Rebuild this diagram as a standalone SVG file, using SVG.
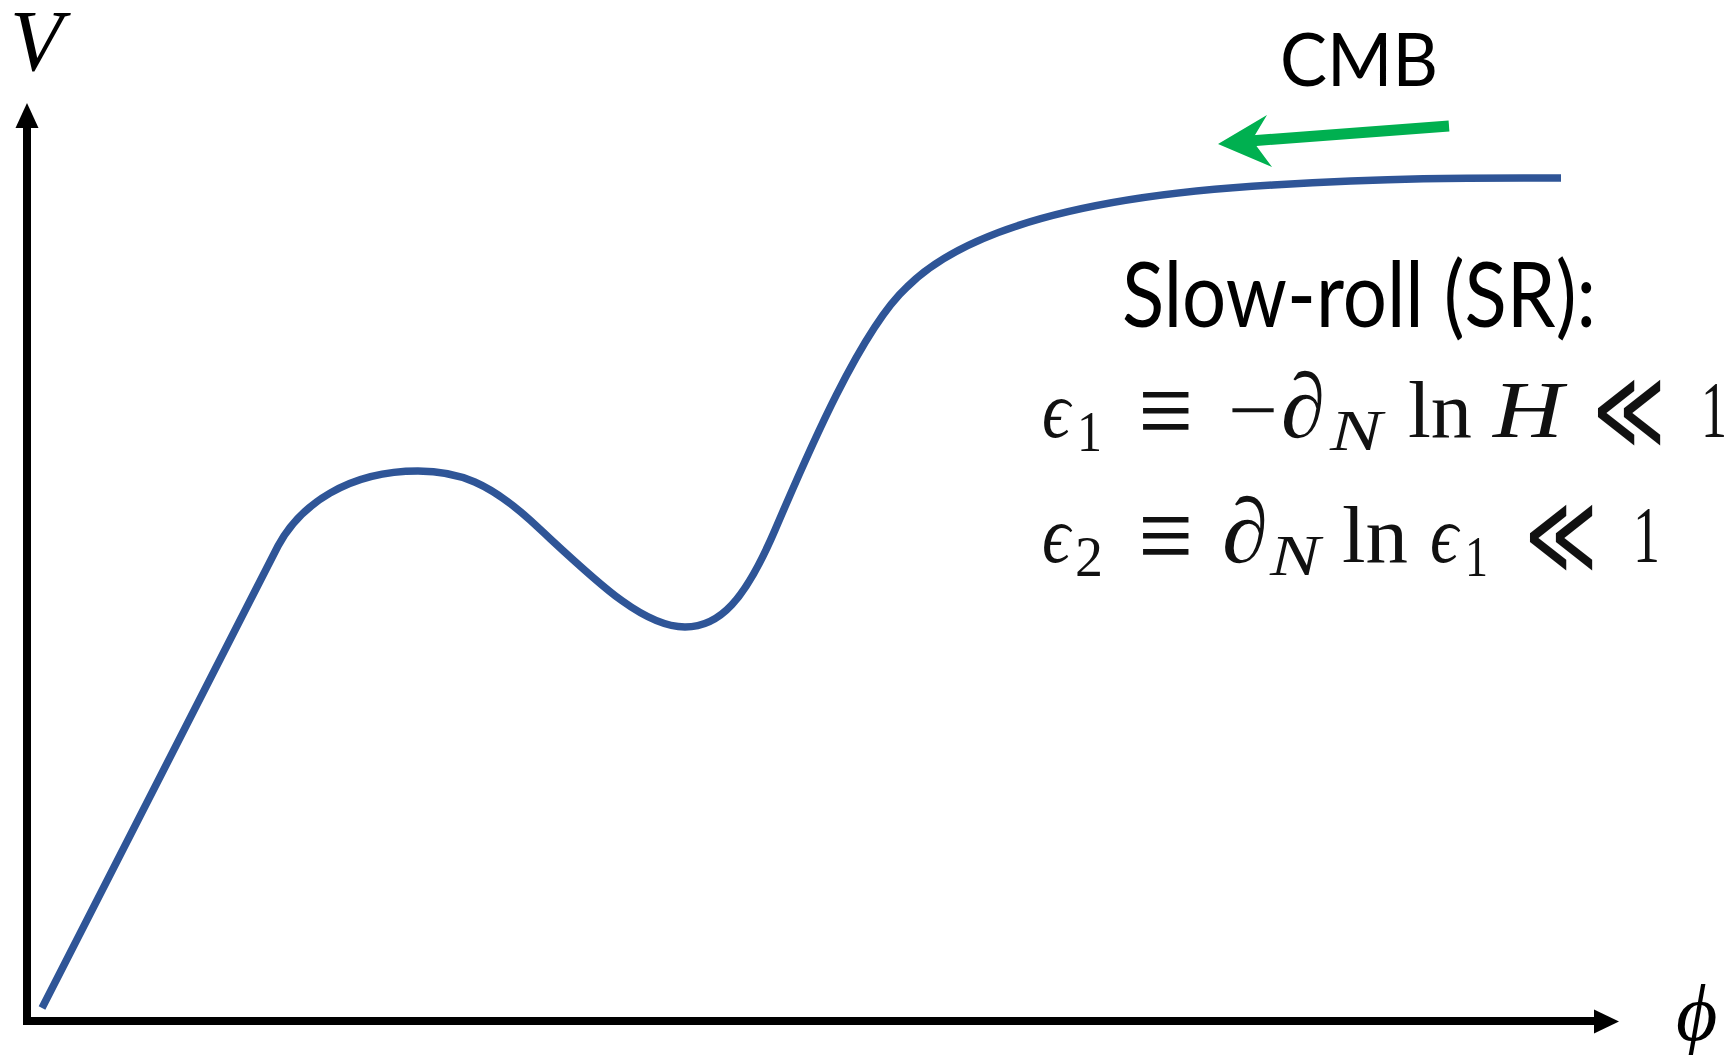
<svg xmlns="http://www.w3.org/2000/svg" width="1732" height="1055" viewBox="0 0 1732 1055">
<style>
.ax{stroke:#000;stroke-width:8;fill:none}
.head{fill:#000}
.curve{stroke:#2F5597;stroke-width:7.5;fill:none;stroke-linecap:butt}
.sans{font-family:Lato,"Open Sans","Liberation Sans",sans-serif;fill:#000}
.m{font-family:"Liberation Serif","DejaVu Serif",serif;fill:#111;font-size:80px}
.mi{font-style:italic}
.m.sub{font-size:56px}
.m.rel{font-size:112px}
.m.del{font-size:92px}
</style>
<rect width="1732" height="1055" fill="#fff"/>
<g id="connectors">
  <g id="axis-v">
    <line class="ax" x1="27" y1="1021" x2="27" y2="124"/>
    <polygon class="head" points="27,103 15.5,128 38.5,128"/>
  </g>
  <g id="axis-h">
    <line class="ax" x1="23" y1="1021" x2="1598" y2="1021"/>
    <polygon class="head" points="1619,1021.5 1594,1009.5 1594,1033.5"/>
  </g>
  <g id="cmb-arrow">
    <line x1="1449" y1="126" x2="1250" y2="141" stroke="#00B050" stroke-width="11"/>
    <polygon points="1218,144 1267,115 1252,140 1272,167" fill="#00B050"/>
  </g>
</g>
<g id="potential">
  <path class="curve" d="M 42 1008 L 278 546 C 300 505, 348 471, 418 471 C 460 471, 490 484, 530 520 C 590 575, 640 627, 685 627 C 720 627, 745 600, 775 530 C 805 460, 860 330, 907 287 C 950 244, 1045 198, 1273 185 C 1407 177, 1480 178, 1561 178"/>
</g>
<g id="label-V">
  <text x="10" y="70" font-family="'Liberation Serif','DejaVu Serif',serif" font-style="italic" font-size="86">V</text>
</g>
<g id="label-phi">
  <text x="1676" y="1040" font-family="'Liberation Serif','DejaVu Serif',serif" font-style="italic" font-size="80">ϕ</text>
</g>
<g id="label-CMB">
  <text class="sans" x="1280" y="86" font-size="74" textLength="158" lengthAdjust="spacingAndGlyphs">CMB</text>
</g>
<g id="label-SR">
  <text class="sans" x="1122" y="327" font-size="92" textLength="474" lengthAdjust="spacingAndGlyphs">Slow-roll (SR):</text>
</g>
<g id="eq1">
  <text class="m mi" x="1042" y="437" textLength="28" lengthAdjust="spacingAndGlyphs">ϵ</text>
  <text class="m sub" x="1077" y="451" textLength="25" lengthAdjust="spacingAndGlyphs">1</text>
  <text class="m rel" x="1138" y="448" textLength="55" lengthAdjust="spacingAndGlyphs">≡</text>
  <text class="m" x="1228" y="437" textLength="50" lengthAdjust="spacingAndGlyphs">−</text>
  <text class="m mi del" x="1281" y="437" textLength="44" lengthAdjust="spacingAndGlyphs">∂</text>
  <text class="m mi sub" x="1330" y="450" textLength="52" lengthAdjust="spacingAndGlyphs">N</text>
  <text class="m" x="1408" y="437" textLength="64" lengthAdjust="spacingAndGlyphs">ln</text>
  <text class="m mi" x="1493" y="437" textLength="70" lengthAdjust="spacingAndGlyphs">H</text>
  <text class="m rel" x="1593" y="448" textLength="72" lengthAdjust="spacingAndGlyphs">≪</text>
  <text class="m" x="1701" y="437" textLength="26" lengthAdjust="spacingAndGlyphs">1</text>
</g>
<g id="eq2">
  <text class="m mi" x="1042" y="562" textLength="28" lengthAdjust="spacingAndGlyphs">ϵ</text>
  <text class="m sub" x="1075" y="576" textLength="28" lengthAdjust="spacingAndGlyphs">2</text>
  <text class="m rel" x="1138" y="573" textLength="55" lengthAdjust="spacingAndGlyphs">≡</text>
  <text class="m mi del" x="1222" y="562" textLength="46" lengthAdjust="spacingAndGlyphs">∂</text>
  <text class="m mi sub" x="1270" y="575" textLength="50" lengthAdjust="spacingAndGlyphs">N</text>
  <text class="m" x="1342" y="562" textLength="66" lengthAdjust="spacingAndGlyphs">ln</text>
  <text class="m mi" x="1430" y="562" textLength="28" lengthAdjust="spacingAndGlyphs">ϵ</text>
  <text class="m sub" x="1465" y="576" textLength="23" lengthAdjust="spacingAndGlyphs">1</text>
  <text class="m rel" x="1525" y="573" textLength="72" lengthAdjust="spacingAndGlyphs">≪</text>
  <text class="m" x="1633" y="562" textLength="27" lengthAdjust="spacingAndGlyphs">1</text>
</g>
</svg>
